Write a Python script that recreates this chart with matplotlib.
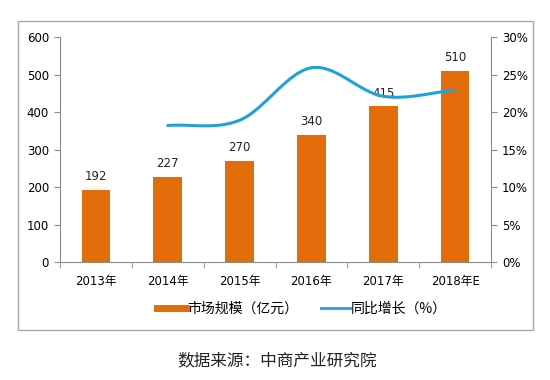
import numpy as np
import matplotlib
matplotlib.use("Agg")
import matplotlib.pyplot as plt
from matplotlib.patches import Rectangle
from matplotlib.lines import Line2D

plt.rcParams['font.family'] = ['DejaVu Sans', 'Noto Sans CJK SC']

years = ["2013年", "2014年", "2015年", "2016年", "2017年", "2018年E"]
market = [192, 227, 270, 340, 415, 510]          # 市场规模（亿元）
growth = [None, 18.2, 18.9, 25.9, 22.1, 22.9]    # 同比增长（%）
left_ticks = [0, 100, 200, 300, 400, 500, 600]
right_ticks = [0, 5, 10, 15, 20, 25, 30]

bar_color = "#E36C0A"
line_color = "#1FA3D6"
axis_gray = "#8C8C8C"


def catmull_rom(xs, ys, n=30):
    # smooth curve through the points, like excel's "smoothed line"
    xs, ys = np.asarray(xs, float), np.asarray(ys, float)
    px = np.concatenate([[2 * xs[0] - xs[1]], xs, [2 * xs[-1] - xs[-2]]])
    py = np.concatenate([[2 * ys[0] - ys[1]], ys, [2 * ys[-1] - ys[-2]]])
    outx, outy = [], []
    t = np.linspace(0, 1, n)
    for i in range(1, len(px) - 2):
        for p, out in ((px, outx), (py, outy)):
            p0, p1, p2, p3 = p[i - 1], p[i], p[i + 1], p[i + 2]
            out.extend(0.5 * ((2 * p1) + (-p0 + p2) * t
                              + (2 * p0 - 5 * p1 + 4 * p2 - p3) * t ** 2
                              + (-p0 + 3 * p1 - 3 * p2 + p3) * t ** 3))
    return np.array(outx), np.array(outy)


fig = plt.figure(figsize=(5.5, 3.8), dpi=100)
fig.patches.append(Rectangle((18 / 550, 1 - 330 / 380), 515 / 550, 309 / 380,
                             transform=fig.transFigure, fill=False,
                             edgecolor="#A6A6A6", linewidth=1.0))

ax = fig.add_axes([60 / 550, 1 - 262 / 380, 431 / 550, 225 / 380])
x = np.arange(len(years))
bars = ax.bar(x, market, width=0.4, color=bar_color, zorder=2)
for xi, v in zip(x, market):
    ax.text(xi, v + 18, str(v), ha="center", va="bottom", fontsize=8.5, color="#222222")

ax.set_xlim(-0.5, len(years) - 0.5)
ax.set_ylim(0, 600)
ax.set_yticks(left_ticks)
ax.set_xticks(x)
ax.set_xticklabels(years, fontsize=8.5)
ax.set_xticks(np.arange(-0.5, len(years), 1.0), minor=True)
ax.tick_params(axis="x", which="major", length=0, pad=9)
ax.tick_params(axis="x", which="minor", length=4, color=axis_gray, direction="out")
ax.tick_params(axis="y", labelsize=8.5, length=4, color=axis_gray, pad=4)
for s in ["top", "right"]:
    ax.spines[s].set_visible(False)
for s in ["left", "bottom"]:
    ax.spines[s].set_color(axis_gray)
    ax.spines[s].set_linewidth(0.8)

ax2 = ax.twinx()
ax2.set_ylim(0, 30)
ax2.set_yticks(right_ticks)
ax2.set_yticklabels([f"{t}%" for t in right_ticks])
ax2.tick_params(axis="y", labelsize=8.5, length=4, color=axis_gray, pad=4)
for s in ["top", "left", "bottom"]:
    ax2.spines[s].set_visible(False)
ax2.spines["right"].set_color(axis_gray)
ax2.spines["right"].set_linewidth(0.8)

gx = [xi for xi, g in zip(x, growth) if g is not None]
gy = [g for g in growth if g is not None]
sx, sy = catmull_rom(gx, gy)
ax2.plot(sx, sy, color=line_color, linewidth=2.2, solid_capstyle="round", zorder=3)

handles = [Line2D([], [], color=bar_color, linewidth=5),
           Line2D([], [], color=line_color, linewidth=2)]
fig.legend(handles, ["市场规模（亿元）", "同比增长（%）"], loc="center",
           bbox_to_anchor=(302 / 550, 1 - 309 / 380), ncol=2, frameon=False,
           handlelength=2.1, handletextpad=0.1, columnspacing=1.6,
           prop={"family": ["Noto Sans CJK SC", "DejaVu Sans"], "size": 10})

fig.text(277 / 550, 1 - 361 / 380, "数据来源：中商产业研究院", ha="center", va="center",
         fontsize=12, family=["Noto Sans CJK SC", "DejaVu Sans"], color="#222222")

fig.savefig("out.png", dpi=100)
